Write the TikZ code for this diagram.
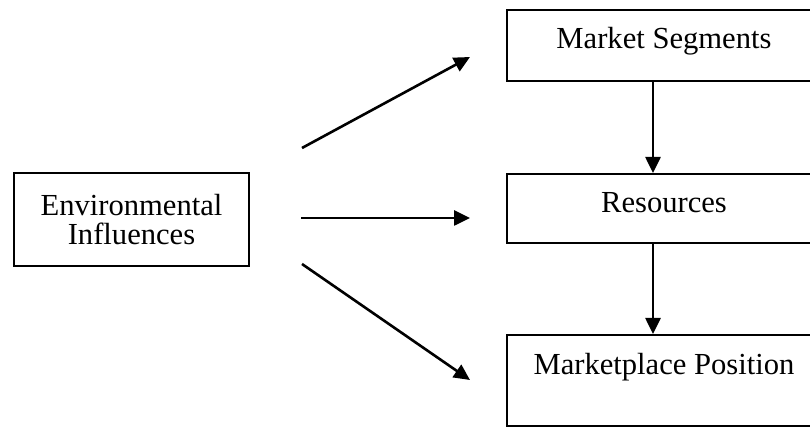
\documentclass[tikz,border=0pt]{standalone}
\usepackage{fontspec}
\setmainfont{Liberation Serif}
\usetikzlibrary{positioning, arrows.meta}

\tikzset{
  box/.style={draw, line width=1pt, rectangle, inner xsep=0pt, inner ysep=0pt,
    font=\fontsize{15.3}{14.5}\selectfont},
  flow/.style={line width=1.3pt, -{Triangle[length=8pt,width=7.5pt]}}
}

\begin{document}
\begin{tikzpicture}[x=0.5pt, y=-0.5pt]
  \useasboundingbox (0,0) rectangle (810,427);

  \node[box, minimum width=117.5pt, minimum height=46.5pt, align=center] (env) at (131.5,219.5) {Environmental\\Influences};

  \node[box, anchor=north, minimum width=157pt, text height=19.5pt, text depth=16pt] (seg) at (664,9) {Market Segments};
  \node[box, anchor=north, minimum width=157pt, text height=19.5pt, text depth=15pt] (res) at (664,173) {Resources};
  \node[box, anchor=north, minimum width=157pt, text height=20pt, text depth=25.5pt] (pos) at (664,334) {Marketplace Position};

  \coordinate (s1) at (302,148); \coordinate (e1) at (470,57);
  \coordinate (s2) at (301,218); \coordinate (e2) at (470,218);
  \coordinate (s3) at (302,264); \coordinate (e3) at (470,380);

  \draw[flow] (s1) -- (e1);
  \draw[flow] (s2) -- (e2);
  \draw[flow] (s3) -- (e3);

  \draw[flow] ([xshift=-5.5pt]seg.south) -- ([xshift=-5.5pt]res.north);
  \draw[flow] ([xshift=-5.5pt]res.south) -- ([xshift=-5.5pt]pos.north);
\end{tikzpicture}
\end{document}
